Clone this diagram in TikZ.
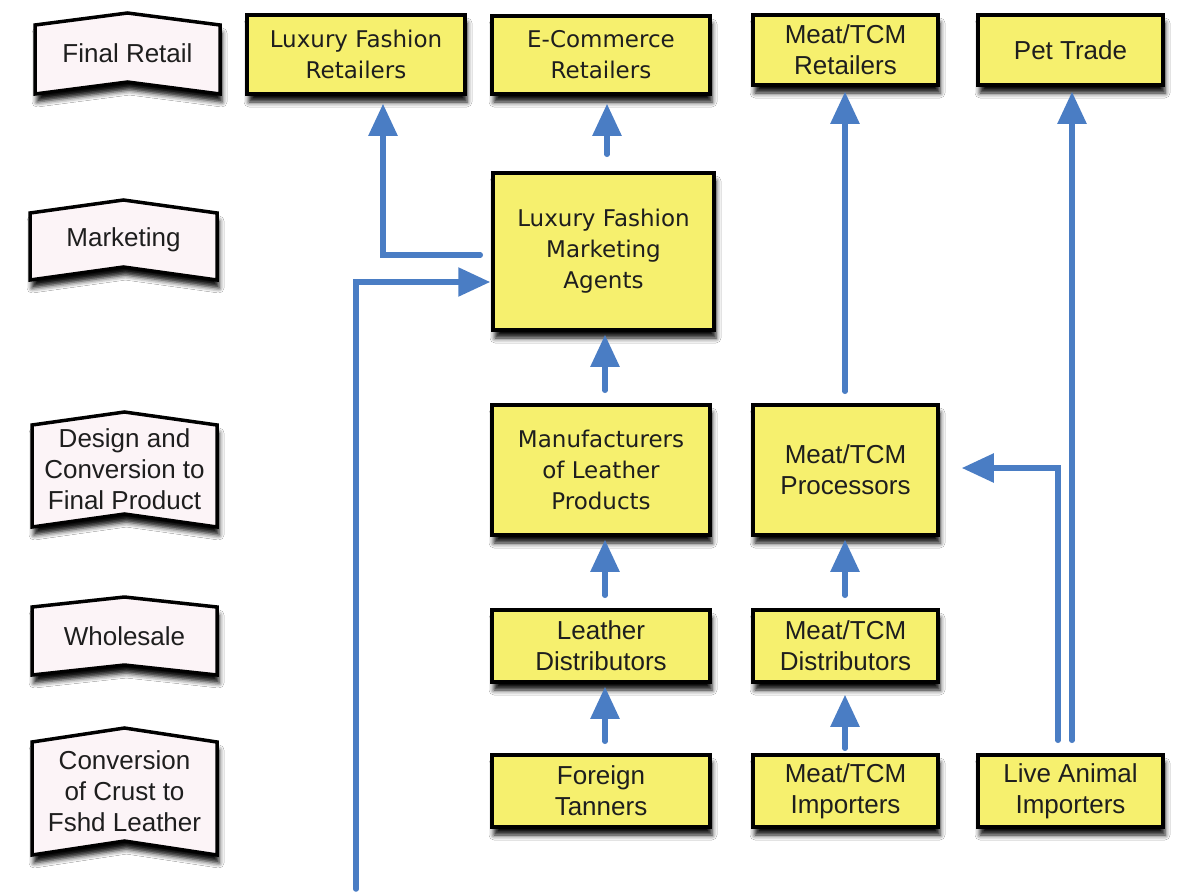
\documentclass[tikz,border=0pt]{standalone}
\usepackage{fontspec}
\setmainfont{Liberation Sans}
\newfontfamily\lucida{DejaVu Sans}
\usetikzlibrary{arrows.meta,shadows.blur,calc}
\definecolor{boxyellow}{RGB}{246,240,110}
\definecolor{flowblue}{RGB}{74,125,196}
\definecolor{bannerpink}{RGB}{252,244,247}
\definecolor{inkgray}{RGB}{30,30,30}
\tikzset{
  softshadow/.style={blur shadow={shadow xshift=2pt, shadow yshift=-8pt, shadow blur radius=5pt, shadow opacity=95}},
  yellowbox/.style={draw=black, line width=3.5pt, fill=boxyellow, inner sep=0pt, align=center, text=inkgray, softshadow},
  humtext/.style={font=\lucida\fontsize{23}{31}\selectfont},
  helvtext/.style={font=\fontsize{26}{31}\selectfont},
  flow/.style={draw=flowblue, line width=5.5pt, line cap=round, -{Triangle[width=28pt,length=32pt]}},
  bannerpath/.style={draw=black, line width=3.5pt, fill=bannerpink, line join=miter, softshadow},
}
\newcommand\bannerlabel[7]{%
  \pgfmathsetmacro\bxc{(#2+#3)/2}%
  \pgfmathsetmacro\bym{(#4+#5)/2-#6/2}%
  \path[bannerpath] (#2,#4) -- (\bxc,#4-#6) -- (#3,#4) -- (#3,#5) -- (\bxc,#5-#6) -- (#2,#5) -- cycle;
  \node[helvtext, align=center, text=inkgray, inner sep=0pt] (#1) at (\bxc,\bym) {#7};
}
\begin{document}
\begin{tikzpicture}[x=1pt,y=-1pt]
\useasboundingbox[fill=white] (0,0) rectangle (1193,895);

% stage labels
\bannerlabel{lblretail}{35}{220}{25}{94}{12}{Final Retail}
\bannerlabel{lblmarketing}{30}{217}{213}{280}{13}{Marketing}
\bannerlabel{lbldesign}{32}{217}{425}{527}{13}{Design and\\Conversion to\\Final Product}
\bannerlabel{lblwholesale}{32}{217}{607}{675}{10}{Wholesale}
\bannerlabel{lblconversion}{32}{217}{742}{855}{14}{Conversion\\of Crust to\\Fshd Leather}

% boxes
\node[yellowbox, humtext, minimum width=218pt, minimum height=79pt] (lfr) at (356,54.5) {Luxury Fashion\\Retailers};
\node[yellowbox, humtext, minimum width=218pt, minimum height=78pt] (ecr) at (601,55) {E-Commerce\\Retailers};
\node[yellowbox, helvtext, minimum width=185pt, minimum height=70pt] (mtr) at (845.5,50) {Meat/TCM\\Retailers};
\node[yellowbox, helvtext, minimum width=185pt, minimum height=70pt] (pet) at (1070.5,50) {Pet Trade};
\node[yellowbox, humtext, minimum width=221pt, minimum height=157pt] (lfma) at (603.5,251.5) {Luxury Fashion\\Marketing\\Agents};
\node[yellowbox, humtext, minimum width=218pt, minimum height=130pt] (mlp) at (601,470) {Manufacturers\\of Leather\\Products};
\node[yellowbox, helvtext, minimum width=185pt, minimum height=130pt] (mtp) at (845.5,470) {Meat/TCM\\Processors};
\node[yellowbox, helvtext, minimum width=218pt, minimum height=72pt] (ld) at (601,646) {Leather\\Distributors};
\node[yellowbox, helvtext, minimum width=185pt, minimum height=72pt] (mtd) at (845.5,646) {Meat/TCM\\Distributors};
\node[yellowbox, helvtext, minimum width=218pt, minimum height=72pt] (ft) at (601,791) {Foreign\\Tanners};
\node[yellowbox, helvtext, minimum width=185pt, minimum height=72pt] (mti) at (845.5,791) {Meat/TCM\\Importers};
\node[yellowbox, helvtext, minimum width=185pt, minimum height=72pt] (lai) at (1070.5,791) {Live Animal\\Importers};

% column coordinates
\coordinate (xE) at (607,0);
\coordinate (xA) at (605,0);
\coordinate (xL) at (383,0);
\coordinate (xM) at (845,0);
\coordinate (xP) at (1058,0);
\coordinate (xQ) at (1072,0);
\coordinate (feed) at (356,889);

% connectors
\draw[flow, shorten <=17pt, shorten >=8pt] (lfma.north -| xE) -- (ecr.south -| xE);
\draw[flow, shorten <=11pt, shorten >=8pt] ([yshift=-3.5pt]lfma.west) -| (lfr.south -| xL);
\draw[flow, shorten >=1pt] (feed) |- ([yshift=-30.5pt]lfma.west);
\draw[flow, shorten <=13pt, shorten >=3pt] (mlp.north -| xA) -- (lfma.south -| xA);
\draw[flow, shorten <=13pt, shorten >=3pt] (ld.north -| xA) -- (mlp.south -| xA);
\draw[flow, shorten <=12pt, shorten >=3pt] (ft.north -| xA) -- (ld.south -| xA);
\draw[flow, shorten <=5pt, shorten >=11pt] (mti.north -| xM) -- (mtd.south -| xM);
\draw[flow, shorten <=13pt, shorten >=3pt] (mtd.north -| xM) -- (mtp.south -| xM);
\draw[flow, shorten <=12pt, shorten >=5pt] (mtp.north -| xM) -- (mtr.south -| xM);
\draw[flow, shorten <=13pt, shorten >=22pt] (lai.north -| xP) |- ([yshift=2pt]mtp.east);
\draw[flow, shorten <=13pt, shorten >=5pt] (lai.north -| xQ) -- (pet.south -| xQ);
\end{tikzpicture}
\end{document}
